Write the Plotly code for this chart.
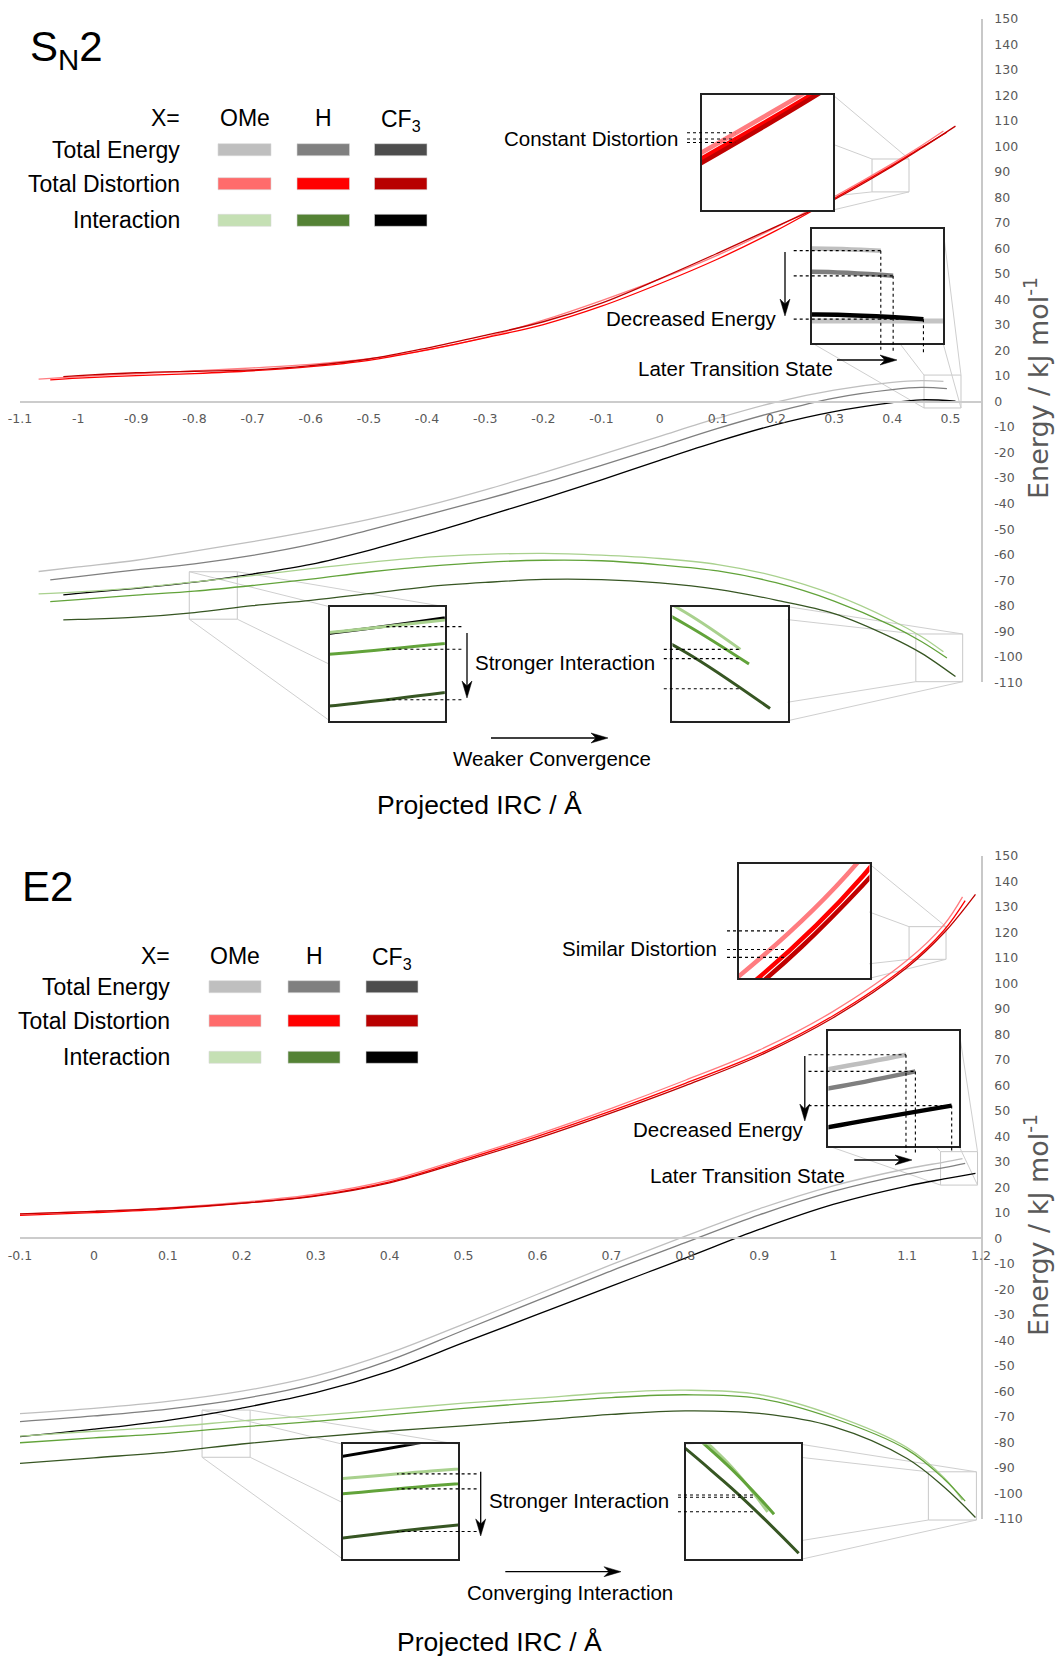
import numpy as np
import plotly.graph_objects as go

W, H = 1060, 1657
TEXT_FONT = "Liberation Sans, Arial, sans-serif"
AXIS_FONT = "DejaVu Sans, Verdana, sans-serif"
AXIS_GREY = "#595959"

SUBSTITUENTS = ["OMe", "H", "CF<sub>3</sub>"]
ROW_LABELS = ["Total Energy", "Total Distortion", "Interaction"]

# ---------------- S_N2: projected IRC (Å) and energies (kJ/mol) ----------------
SN2_X_OME = [-1.068, -1.0, -0.9, -0.8, -0.7, -0.6, -0.5, -0.4, -0.3, -0.2, -0.1, 0.0, 0.1, 0.2, 0.3, 0.4, 0.45, 0.488]
SN2_X_H = [-1.048, -1.0, -0.9, -0.8, -0.7, -0.6, -0.5, -0.4, -0.3, -0.2, -0.1, 0.0, 0.1, 0.2, 0.3, 0.4, 0.45, 0.494]
SN2_X_CF3 = [-1.0255, -1.0, -0.9, -0.8, -0.7, -0.6, -0.5, -0.4, -0.3, -0.2, -0.1, 0.0, 0.1, 0.2, 0.3, 0.4, 0.45, 0.5087]

SN2_TOTAL_OME = [-66.6, -64.8, -62.2, -58.6, -54.9, -50.8, -46.2, -40.8, -34.6, -27.8, -20.8, -13.6, -6.5, -0.2, 4.5, 7.5, 8.2, 7.95]
SN2_TOTAL_H = [-69.9, -68.6, -66.0, -63.6, -60.3, -56.0, -50.4, -44.4, -38.3, -31.9, -25.0, -17.8, -10.5, -4.0, 1.4, 4.7, 5.55, 5.1]
SN2_TOTAL_CF3 = [-75.8, -75.2, -73.2, -70.8, -67.6, -63.8, -58.3, -51.9, -45.0, -38.0, -30.7, -23.0, -15.6, -9.0, -3.9, -0.4, 0.7, 0.2]

SN2_DIST_OME = [8.8, 9.8, 10.9, 12.0, 13.2, 14.6, 16.8, 20.2, 25.2, 31.9, 39.6, 48.0, 57.4, 68.3, 80.3, 93.3, 100.3, 106.05]
SN2_DIST_H = [8.5, 9.2, 10.2, 11.0, 12.1, 13.7, 16.2, 20.3, 25.0, 30.2, 37.4, 46.2, 55.9, 67.0, 79.6, 92.6, 99.6, 105.6]
SN2_DIST_CF3 = [9.8, 10.2, 11.3, 11.9, 12.4, 14.1, 16.7, 21.0, 26.0, 31.3, 38.6, 48.1, 58.2, 68.6, 79.2, 92.2, 99.3, 108.0]

SN2_INT_OME = [-75.4, -74.6, -73.0, -70.7, -68.2, -65.5, -63.0, -61.0, -59.9, -59.5, -60.2, -61.5, -63.9, -68.5, -75.7, -85.8, -92.1, -98.1]
SN2_INT_H = [-78.4, -77.6, -75.9, -74.3, -72.1, -69.6, -66.8, -64.6, -63.0, -62.2, -62.4, -64.0, -66.4, -71.0, -78.2, -87.9, -94.05, -100.5]
SN2_INT_CF3 = [-85.6, -85.4, -84.5, -82.7, -80.0, -77.9, -75.3, -72.6, -70.9, -69.7, -69.8, -71.1, -73.6, -77.8, -83.1, -92.6, -98.6, -107.8]

# ---------------- E2: projected IRC (Å) and energies (kJ/mol) ----------------
E2_X_OME = [-0.1, 0.0, 0.1, 0.2, 0.3, 0.4, 0.5, 0.6, 0.7, 0.8, 0.9, 1.0, 1.1, 1.15, 1.175]
E2_X_H = [-0.1, 0.0, 0.1, 0.2, 0.3, 0.4, 0.5, 0.6, 0.7, 0.8, 0.9, 1.0, 1.1, 1.15, 1.1786]
E2_X_CF3 = [-0.1, 0.0, 0.1, 0.2, 0.3, 0.4, 0.5, 0.6, 0.7, 0.8, 0.9, 1.0, 1.1, 1.15, 1.1925]

E2_TOTAL_OME = [-68.7, -66.6, -63.9, -59.9, -53.9, -44.9, -33.6, -21.9, -10.3, 0.9, 11.6, 20.6, 27.3, 29.9, 31.3]
E2_TOTAL_H = [-71.8, -69.6, -66.9, -62.9, -56.9, -47.8, -36.0, -24.3, -12.7, -1.7, 9.2, 18.4, 25.2, 27.7, 29.4]
E2_TOTAL_CF3 = [-77.7, -74.8, -71.3, -66.5, -60.5, -52.0, -40.9, -29.8, -18.7, -7.7, 3.5, 13.3, 20.5, 23.3, 25.5]

E2_DIST_OME = [9.5, 10.6, 12.0, 14.2, 17.3, 22.8, 31.5, 40.8, 51.0, 62.0, 73.8, 89.0, 109.0, 123.0, 133.9]
E2_DIST_H = [9.0, 10.1, 11.5, 13.7, 16.8, 22.2, 30.8, 40.0, 50.0, 60.8, 72.3, 87.3, 107.0, 120.8, 132.4]
E2_DIST_CF3 = [9.6, 10.6, 11.9, 13.8, 16.6, 21.8, 30.2, 39.2, 49.2, 59.9, 71.6, 86.5, 106.2, 119.8, 134.9]

E2_INT_OME = [-77.5, -75.6, -73.9, -71.5, -69.4, -67.0, -64.6, -62.6, -60.5, -59.5, -61.2, -69.3, -82.0, -93.8, -102.6]
E2_INT_H = [-80.1, -78.2, -76.4, -73.9, -71.7, -69.2, -66.6, -64.4, -62.4, -61.3, -62.7, -70.5, -82.8, -94.3, -103.0]
E2_INT_CF3 = [-88.2, -86.0, -83.8, -80.6, -77.9, -75.5, -73.5, -71.3, -69.0, -67.6, -68.6, -73.8, -86.3, -97.5, -109.4]

# ---------------- axis ticks ----------------
E_TICKS = list(range(-110, 151, 10))
SN2_XTICKS = [-1.1, -1.0, -0.9, -0.8, -0.7, -0.6, -0.5, -0.4, -0.3, -0.2, -0.1, 0.0, 0.1, 0.2, 0.3, 0.4, 0.5]
E2_XTICKS = [-0.1, 0.0, 0.1, 0.2, 0.3, 0.4, 0.5, 0.6, 0.7, 0.8, 0.9, 1.0, 1.1, 1.2]

SN2 = {
    "total": [(SN2_X_OME, SN2_TOTAL_OME), (SN2_X_H, SN2_TOTAL_H), (SN2_X_CF3, SN2_TOTAL_CF3)],
    "dist": [(SN2_X_OME, SN2_DIST_OME), (SN2_X_H, SN2_DIST_H), (SN2_X_CF3, SN2_DIST_CF3)],
    "int": [(SN2_X_OME, SN2_INT_OME), (SN2_X_H, SN2_INT_H), (SN2_X_CF3, SN2_INT_CF3)],
}
E2 = {
    "total": [(E2_X_OME, E2_TOTAL_OME), (E2_X_H, E2_TOTAL_H), (E2_X_CF3, E2_TOTAL_CF3)],
    "dist": [(E2_X_OME, E2_DIST_OME), (E2_X_H, E2_DIST_H), (E2_X_CF3, E2_DIST_CF3)],
    "int": [(E2_X_OME, E2_INT_OME), (E2_X_H, E2_INT_H), (E2_X_CF3, E2_INT_CF3)],
}

CURVE_COLORS = {
    "total": ["#bfbfbf", "#7f7f7f", "#000000"],
    "dist": ["#ff7c80", "#ff0000", "#c00000"],
    "int": ["#a9d18e", "#62a33a", "#375623"],
}
KEY_COLORS = {
    "total": ["#bfbfbf", "#808080", "#4d4d4d"],
    "dist": ["#ff6b6b", "#ff0000", "#b80000"],
    "int": ["#c5e0b4", "#548235", "#000000"],
}
KINDS = ["total", "dist", "int"]


def pxx(x):
    return x / W


def pxy(y):
    return 1 - y / H


def tick_label(v):
    s = f"{v:.1f}".rstrip("0").rstrip(".")
    return "0" if s in ("-0", "") else s


PLOT_L, PLOT_R = 20, 981
E_RANGE = [-110, 150]
PANELS = {
    "sn2": dict(xrange=[-1.1, 0.5526], top=18.95, bottom=682.2, ax="", series=SN2, xticks=SN2_XTICKS),
    "e2": dict(xrange=[-0.1, 1.2], top=855.75, bottom=1519.0, ax="2", series=E2, xticks=E2_XTICKS),
}


def main_px(p, x, y):
    P = PANELS[p]
    x0, x1 = P["xrange"]
    X = PLOT_L + (x - x0) / (x1 - x0) * (PLOT_R - PLOT_L)
    Y = P["bottom"] - (y - E_RANGE[0]) / (E_RANGE[1] - E_RANGE[0]) * (P["bottom"] - P["top"])
    return X, Y


# magnified views: box in page pixels, ranges in data units
INSETS = [
    dict(panel="sn2", box=(702, 95, 833, 210), xr=[0.3652, 0.4288], yr=[82.2, 95.1], lw=4.5,
         guide=dict(kind="dist", at=0.3813, to_x=687)),
    dict(panel="sn2", box=(812, 229, 943, 343), xr=[0.4546, 0.5182], yr=[-2.5, 10.4], lw=4.5, axis_line=True,
         guide=dict(kind="total", at="end", to_x=793.7, drop_to=352.7)),
    dict(panel="sn2", box=(329.6, 606.7, 444.8, 720.7), xr=[-0.8089, -0.7263], yr=[-85.3, -66.7], lw=3,
         guide=dict(kind="int", at=-0.770, to_x=461.4)),
    dict(panel="sn2", box=(672.4, 606.7, 787.8, 720.7), xr=[0.4405, 0.5211], yr=[-109.8, -91.1], lw=3,
         guide=dict(kind="int", at=SN2_X_OME[-1], to_x=663.8)),
    dict(panel="e2", box=(739, 864, 869.5, 978.3), xr=[1.1027, 1.1527], yr=[109.4, 122.2], lw=4.5,
         guide=dict(kind="dist", at=1.1204, to_x=727)),
    dict(panel="e2", box=(828.4, 1031, 959, 1146), xr=[1.1453, 1.1953], yr=[20.9, 34.0], lw=4.5,
         guide=dict(kind="total", at="end", to_x=808.5, drop_to=1152.7)),
    dict(panel="e2", box=(343, 1444.3, 458, 1559.3), xr=[0.1463, 0.2113], yr=[-85.8, -67.3], lw=3,
         guide=dict(kind="int", at=0.1769, to_x=476.6)),
    dict(panel="e2", box=(685.7, 1444.3, 801, 1559.3), xr=[1.1288, 1.1938], yr=[-110.4, -91.5], lw=3,
         guide=dict(kind="int", at=1.1682, to_x=678)),
]


def inset_px(ins, x, y):
    bx0, by0, bx1, by1 = ins["box"]
    xr, yr = ins["xr"], ins["yr"]
    X = bx0 + (x - xr[0]) / (xr[1] - xr[0]) * (bx1 - bx0)
    Y = by1 - (y - yr[0]) / (yr[1] - yr[0]) * (by1 - by0)
    return X, Y


fig = go.Figure()


def add_curves(series, xa, ya, width):
    for kind in KINDS:
        for (xs, ys), col in zip(series[kind], CURVE_COLORS[kind]):
            fig.add_trace(go.Scatter(
                x=xs, y=ys, mode="lines", xaxis=xa, yaxis=ya, hoverinfo="skip", showlegend=False,
                line=dict(color=col, width=width, shape="spline", smoothing=1.0)))


# main panels
for p, P in PANELS.items():
    add_curves(P["series"], "x" + P["ax"], "y" + P["ax"], 1.3)

# magnified views (drawn above the main panels)
for i, ins in enumerate(INSETS):
    n = str(i + 3)
    xr, yr = ins["xr"], ins["yr"]
    fig.add_trace(go.Scatter(
        x=[xr[0], xr[1], xr[1], xr[0], xr[0]], y=[yr[0], yr[0], yr[1], yr[1], yr[0]],
        mode="lines", fill="toself", fillcolor="white", line=dict(width=0, color="white"),
        xaxis="x" + n, yaxis="y" + n, hoverinfo="skip", showlegend=False))
    if ins.get("axis_line"):
        fig.add_trace(go.Scatter(x=xr, y=[0, 0], mode="lines", line=dict(color="#c4c4c4", width=5),
                                 xaxis="x" + n, yaxis="y" + n, hoverinfo="skip", showlegend=False))
    add_curves(PANELS[ins["panel"]]["series"], "x" + n, "y" + n, ins["lw"])

layout = dict(
    width=W, height=H, margin=dict(l=0, r=0, t=0, b=0, autoexpand=False),
    paper_bgcolor="white", plot_bgcolor="rgba(0,0,0,0)",
    showlegend=False, hovermode=False,
)

for p, P in PANELS.items():
    ax = P["ax"]
    zero_y = main_px(p, P["xrange"][0], 0)[1]
    layout["xaxis" + ax] = dict(
        domain=[pxx(PLOT_L), pxx(PLOT_R)], range=P["xrange"], anchor="free", position=pxy(zero_y),
        automargin=False,
        showline=True, linecolor="#cccccc", linewidth=1.5, showgrid=False, zeroline=False,
        tickmode="array", tickvals=P["xticks"], ticktext=[tick_label(v) for v in P["xticks"]],
        ticks="outside", ticklen=6, tickcolor="rgba(0,0,0,0)",
        tickfont=dict(family=AXIS_FONT, size=12.5, color=AXIS_GREY))
    layout["yaxis" + ax] = dict(
        domain=[pxy(P["bottom"]), pxy(P["top"])], range=E_RANGE, anchor="x" + ax, side="right",
        automargin=False,
        showline=True, linecolor="#c8c8c8", linewidth=1.5, showgrid=False, zeroline=False,
        tickmode="array", tickvals=E_TICKS, ticktext=[str(v) for v in E_TICKS],
        ticks="outside", ticklen=9, tickcolor="rgba(0,0,0,0)",
        tickfont=dict(family=AXIS_FONT, size=12.5, color=AXIS_GREY))

for i, ins in enumerate(INSETS):
    n = str(i + 3)
    bx0, by0, bx1, by1 = ins["box"]
    common = dict(showline=True, mirror=True, linecolor="#222222", linewidth=2, showgrid=False,
                  zeroline=False, showticklabels=False, ticks="", fixedrange=True, automargin=False)
    layout["xaxis" + n] = dict(domain=[pxx(bx0), pxx(bx1)], range=ins["xr"], anchor="y" + n, **common)
    layout["yaxis" + n] = dict(domain=[pxy(by1), pxy(by0)], range=ins["yr"], anchor="x" + n, **common)

fig.update_layout(**layout)

shapes = []
annotations = []


def line_shape(x0, y0, x1, y1, color="#000000", width=1.1, dash="dot", layer="above"):
    shapes.append(dict(type="line", xref="paper", yref="paper", x0=pxx(x0), y0=pxy(y0),
                       x1=pxx(x1), y1=pxy(y1), line=dict(color=color, width=width, dash=dash), layer=layer))


def text(s, x, y, size=20.5, xanchor="center", color="#000000", family=TEXT_FONT, angle=0):
    annotations.append(dict(text=s, x=pxx(x), y=pxy(y), xref="paper", yref="paper", xanchor=xanchor,
                            yanchor="middle", showarrow=False, textangle=angle,
                            font=dict(size=size, color=color, family=family)))


def arrow(tail, tip, head_len=17, half_w=5.0, notch=5):
    """Straight arrow with a narrow, notched filled head (page pixel coordinates)."""
    tx, ty = tail
    hx, hy = tip
    d = np.hypot(hx - tx, hy - ty)
    ux, uy = (hx - tx) / d, (hy - ty) / d
    nx, ny = -uy, ux
    bx, by = hx - ux * head_len, hy - uy * head_len
    line_shape(tx, ty, bx + ux * notch, by + uy * notch, width=1.3, dash="solid")
    pts = [(hx, hy), (bx + nx * half_w, by + ny * half_w), (bx + ux * notch, by + uy * notch),
           (bx - nx * half_w, by - ny * half_w)]
    path = "M " + " L ".join(f"{pxx(x):.6f},{pxy(y):.6f}" for x, y in pts) + " Z"
    shapes.append(dict(type="path", xref="paper", yref="paper", path=path, fillcolor="#000000",
                       line=dict(color="#000000", width=0.5), layer="above"))


# frames of the magnified regions and the lines joining them to their views
for ins in INSETS:
    p = ins["panel"]
    xr, yr = ins["xr"], ins["yr"]
    sx0, sy1 = main_px(p, xr[0], yr[0])
    sx1, sy0 = main_px(p, xr[1], yr[1])
    shapes.append(dict(type="rect", xref="paper", yref="paper", x0=pxx(sx0), x1=pxx(sx1),
                       y0=pxy(sy1), y1=pxy(sy0), line=dict(color="#c8c8c8", width=1), layer="below"))
    bx0, by0, bx1, by1 = ins["box"]
    for (ax_, ay_), (bx_, by_) in [((sx0, sy0), (bx0, by0)), ((sx1, sy0), (bx1, by0)),
                                   ((sx0, sy1), (bx0, by1)), ((sx1, sy1), (bx1, by1))]:
        line_shape(ax_, ay_, bx_, by_, color="#cfcfcf", width=1, dash="solid", layer="below")

    # dotted guides marking values inside the view
    g = ins["guide"]
    series = PANELS[p]["series"][g["kind"]]
    for xs, ys in series:
        if g["at"] == "end":
            X, Y = inset_px(ins, xs[-1], ys[-1])
        else:
            X, Y = inset_px(ins, g["at"], float(np.interp(g["at"], xs, ys)))
        line_shape(g["to_x"], Y, X, Y)
        if "drop_to" in g:
            line_shape(X, Y, X, g["drop_to"])

# S_N2 callouts
text("Constant Distortion", 591, 139)
arrow((785, 252), (785, 316))
text("Decreased Energy", 691, 318)
arrow((837, 360), (897, 360))
text("Later Transition State", 735, 368)
arrow((467, 633), (467, 698))
text("Stronger Interaction", 564.5, 662)
arrow((491, 738), (608, 738))
text("Weaker Convergence", 552, 758)
text("Projected IRC / Å", 479, 805, size=26.5)
text("Energy / kJ mol<sup>-1</sup>", 1036, 388, size=27, color=AXIS_GREY, family=AXIS_FONT, angle=-90)
text("S<sub>N</sub>2", 28, 50, size=42, xanchor="left")

# E2 callouts
text("Similar Distortion", 639, 948)
arrow((804.8, 1056), (804.8, 1121))
text("Decreased Energy", 718.6, 1129)
arrow((854.3, 1160), (912, 1160))
text("Later Transition State", 747, 1175)
arrow((480.7, 1471.7), (480.7, 1536))
text("Stronger Interaction", 578.5, 1500)
arrow((505.3, 1571.7), (621, 1571.7))
text("Converging Interaction", 570, 1592)
text("Projected IRC / Å", 499, 1642, size=26.5)
text("Energy / kJ mol<sup>-1</sup>", 1036, 1225, size=27, color=AXIS_GREY, family=AXIS_FONT, angle=-90)
text("E2", 20, 886, size=42, xanchor="left")

# colour keys
KEYS = [
    dict(label_right=182, head_y=118, rows_y=[149.7, 183.7, 220.3], cols=[(218, 271), (297, 349.5), (374.5, 427)]),
    dict(label_right=172, head_y=956, rows_y=[986.7, 1020.7, 1057.3], cols=[(209, 261), (288, 340), (366, 418)]),
]
for k in KEYS:
    text("X=", k["label_right"], k["head_y"], size=23, xanchor="right")
    for (c0, c1), name in zip(k["cols"], SUBSTITUENTS):
        text(name, (c0 + c1) / 2, k["head_y"] + (2 if "sub" in name else 0), size=23)
    for ry, row, kind in zip(k["rows_y"], ROW_LABELS, KINDS):
        text(row, k["label_right"], ry, size=23, xanchor="right")
        for (c0, c1), col in zip(k["cols"], KEY_COLORS[kind]):
            shapes.append(dict(type="rect", xref="paper", yref="paper", x0=pxx(c0), x1=pxx(c1),
                               y0=pxy(ry + 6), y1=pxy(ry - 6), fillcolor=col,
                               line=dict(width=0.6, color="#d9d9d9"), layer="above"))

fig.update_layout(shapes=shapes, annotations=annotations)
fig.write_html("out.html")
